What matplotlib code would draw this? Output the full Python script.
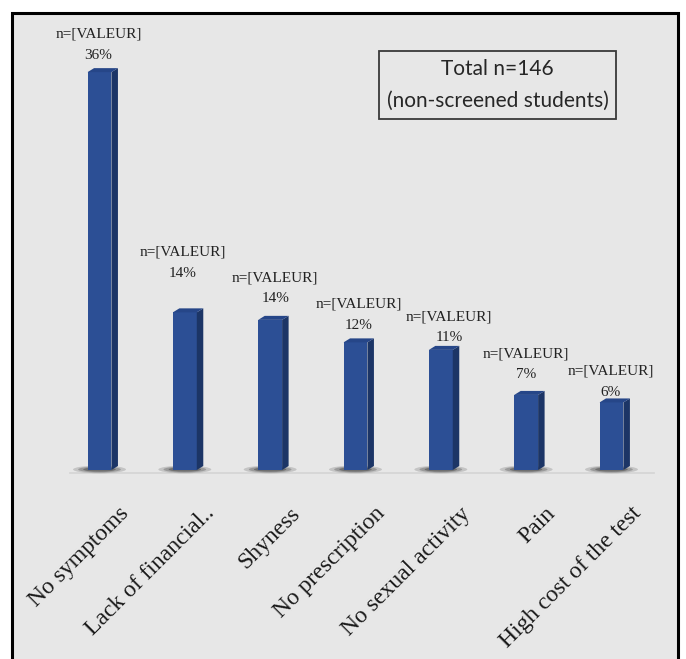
import matplotlib
matplotlib.use("Agg")
import matplotlib.pyplot as plt
from matplotlib.patches import Rectangle, Polygon, Ellipse

# ---------------- data ----------------
categories = ["No symptoms", "Lack of financial..", "Shyness", "No prescription",
              "No sexual activity", "Pain", "High cost of the test"]
counts = [53, 21, 20, 17, 16, 10, 9]
total_n = 146
pct_labels = ["36%", "14%", "14%", "12%", "11%", "7%", "6%"]
value_text = "n=[VALEUR]"
box_lines = ["Total n=146", "(non-screened students)"]

percents = [100.0 * c / total_n for c in counts]

# ---------------- layout / style ----------------
label_gap_px = [17, 39, 21, 17, 12, 20, 10]   # % line centre above bar top
label_dx_px = [-1, -2, 5, 3, 8, 0, -1]
BG = "#e7e7e7"
FRONT = "#2c4f95"
SIDE = "#1c3566"
TOP = "#264688"

W, H = 686, 659
fig = plt.figure(figsize=(W / 100, H / 100), dpi=100)
fig.patch.set_facecolor("white")

# outer frame
frame = Rectangle((12 / W, -0.02), (678 - 12) / W, 1 - 13 / H + 0.02,
                  transform=fig.transFigure, facecolor=BG, edgecolor="black",
                  linewidth=2.2, zorder=-10)
fig.patches.append(frame)

# axes: x=0 at px 99.5, 85.33 px/unit ; baseline at px 470, 10.96 px/%
px_unit = 85.33
py_unit = 10.96
xl, xr = -0.9, 6.7
yb, yt = -1.0, 40.0
left = (99.5 + xl * px_unit) / W
width = (xr - xl) * px_unit / W
bottom = (H - 470 + yb * py_unit) / H
height = (yt - yb) * py_unit / H
ax = fig.add_axes([left, bottom, width, height])
ax.set_zorder(1)
ax.set_xlim(xl, xr)
ax.set_ylim(yb, yt)
ax.axis("off")
ax.patch.set_alpha(0)

xs = list(range(len(categories)))
bw = 0.28
ddx = 6.5 / px_unit
ddy = 4.0 / py_unit

# baseline
ax.plot([-0.35, 6.5], [-0.3, -0.3], color="#d4d4d4", lw=1.2, zorder=1)

# shadows
for x in xs:
    for w_, h_, a_ in [(0.62, 0.7, 0.20), (0.5, 0.55, 0.30), (0.38, 0.4, 0.45)]:
        ax.add_patch(Ellipse((x + 0.0, 0.05), w_, h_, facecolor="#3c3c3c",
                             edgecolor="none", alpha=a_, zorder=2))

# bars: front faces
ax.bar(xs, percents, width=bw, color=FRONT, zorder=4, linewidth=0)
for x, h in zip(xs, percents):
    r = x + bw / 2
    l = x - bw / 2
    ax.add_patch(Polygon([(r, 0), (r + ddx, ddy), (r + ddx, h + ddy), (r, h)],
                         closed=True, facecolor=SIDE, edgecolor="none", zorder=4))
    ax.add_patch(Polygon([(l, h), (l + ddx, h + ddy), (r + ddx, h + ddy), (r, h)],
                         closed=True, facecolor=TOP, edgecolor="none", zorder=5))

# data labels
serif = "Liberation Serif"
for x, h, pl, gap, dx in zip(xs, percents, pct_labels, label_gap_px, label_dx_px):
    ax.annotate(pl, xy=(x, h), xytext=(dx * 0.72, gap * 0.72),
                textcoords="offset points", ha="center", va="center",
                fontsize=11, family=serif, color="#222222", zorder=6,
                annotation_clip=False)
    ax.annotate(value_text, xy=(x, h), xytext=(dx * 0.72, (gap + 21) * 0.72),
                textcoords="offset points", ha="center", va="center",
                fontsize=11, family=serif, color="#222222", zorder=6,
                annotation_clip=False)

# category labels
for x, cat in zip(xs, categories):
    ax.annotate(cat, xy=(x, 0), xytext=(19 * 0.72, -33 * 0.72),
                textcoords="offset points", rotation=45, ha="right", va="top",
                rotation_mode="anchor", fontsize=17, family=serif,
                color="#1a1a1a", annotation_clip=False)

# total box
bx0, by0, bx1, by1 = 379, 51, 616, 119
fig.patches.append(Rectangle((bx0 / W, 1 - by1 / H), (bx1 - bx0) / W, (by1 - by0) / H,
                             transform=fig.transFigure, facecolor="none",
                             edgecolor="#3a3a3a", linewidth=1.3, zorder=5))
cx = (bx0 + bx1) / 2 / W
fig.text(cx, 1 - 69 / H, box_lines[0], ha="center", va="center",
         fontsize=15, family="Lato", color="#262626", zorder=6)
fig.text(cx, 1 - 101 / H, box_lines[1], ha="center", va="center",
         fontsize=15, family="Lato", color="#262626", zorder=6)

fig.savefig("out.png", dpi=100, facecolor=fig.get_facecolor())
